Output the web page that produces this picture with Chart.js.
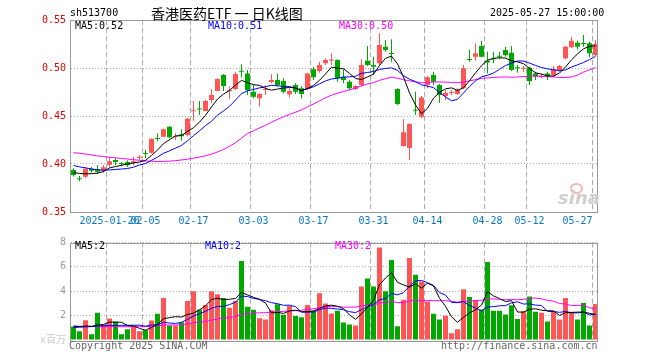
<!DOCTYPE html>
<html lang="zh-CN">
<head>
<meta charset="UTF-8">
<title>香港医药ETF 日K线图</title>
<script src="https://cdn.jsdelivr.net/npm/chart.js"></script>
<style>
  body { margin: 0; background: #fff; }
  #wrap { position: relative; width: 660px; height: 360px; overflow: hidden;
          font-family: "DejaVu Sans Mono", "Noto Sans CJK SC", monospace; font-size: 10px; }
  #priceChart { position: absolute; left: 0; top: 0; }
  #volChart { position: absolute; left: 0; top: 232px; }
  .t { position: absolute; white-space: pre; line-height: 12px; }
  .title { font-family: "Noto Sans CJK SC", sans-serif; font-size: 14px; line-height: 16px; }
  .logo { position: absolute; left: 558px; top: 188px; font-family: "DejaVu Sans", sans-serif;
          font-size: 18px; font-weight: bold; font-style: italic; color: #cfcfcf; line-height: 20px; }
  .eye { position: absolute; left: 570px; top: 183px; width: 9px; height: 7px; border-radius: 50%;
         border: 2px solid #f2b8b8; }
</style>
</head>
<body>
<div id="wrap">
  <canvas id="priceChart" width="660" height="232"></canvas>
  <canvas id="volChart" width="660" height="128"></canvas>

  <div class="t" style="left:70px;top:7px;color:#000">sh513700</div>
  <div class="t title" style="left:151px;top:5px;color:#000">香港医药ETF 一 日K线图</div>
  <div class="t" style="left:490px;top:7px;color:#000">2025-05-27 15:00:00</div>

  <div class="t" style="left:75px;top:20px;color:#000">MA5:0.52</div>
  <div class="t" style="left:208px;top:20px;color:#0000ff">MA10:0.51</div>
  <div class="t" style="left:339px;top:20px;color:#ff00ff">MA30:0.50</div>

  <div class="t" style="left:75px;top:240px;color:#000">MA5:2</div>
  <div class="t" style="left:205px;top:240px;color:#0000ff">MA10:2</div>
  <div class="t" style="left:335px;top:240px;color:#ff00ff">MA30:2</div>

  <div class="eye"></div>
  <div class="logo">sina</div>

  <div class="t" style="left:69px;top:340px;color:#666">Copyright 2025 SINA.COM</div>
  <div class="t" style="left:441px;top:340px;color:#666">http://finance.sina.com.cn</div>
</div>

<script>
// trading days shown on the chart
const dates = [
  '2025-01-10','2025-01-13','2025-01-14','2025-01-15','2025-01-16','2025-01-17','2025-01-20','2025-01-21','2025-01-22','2025-01-23','2025-01-24','2025-01-27',
  '2025-02-05','2025-02-06','2025-02-07','2025-02-10','2025-02-11','2025-02-12','2025-02-13','2025-02-14','2025-02-17','2025-02-18','2025-02-19','2025-02-20','2025-02-21','2025-02-24','2025-02-25','2025-02-26','2025-02-27','2025-02-28',
  '2025-03-03','2025-03-04','2025-03-05','2025-03-06','2025-03-07','2025-03-10','2025-03-11','2025-03-12','2025-03-13','2025-03-14','2025-03-17','2025-03-18','2025-03-19','2025-03-20','2025-03-21','2025-03-24','2025-03-25','2025-03-26','2025-03-27','2025-03-28','2025-03-31',
  '2025-04-01','2025-04-02','2025-04-03','2025-04-07','2025-04-08','2025-04-09','2025-04-10','2025-04-11','2025-04-14','2025-04-15','2025-04-16','2025-04-17','2025-04-18','2025-04-21','2025-04-22','2025-04-23','2025-04-24','2025-04-25','2025-04-28','2025-04-29','2025-04-30',
  '2025-05-06','2025-05-07','2025-05-08','2025-05-09','2025-05-12','2025-05-13','2025-05-14','2025-05-15','2025-05-16','2025-05-19','2025-05-20','2025-05-21','2025-05-22','2025-05-23','2025-05-26','2025-05-27'
];

// dates that get a label and a dashed line
const axisDates = ['2025-01-20','2025-02-05','2025-02-17','2025-03-03','2025-03-17','2025-03-31','2025-04-14','2025-04-28','2025-05-12','2025-05-27'];

const opens = [
  0.3937,0.385,0.3868,0.395,0.3945,0.393,0.3993,0.4042,0.4005,0.402,
  0.4007,0.4065,0.411,0.4118,0.4266,0.4285,0.4389,0.4285,0.431,0.4302,
  0.4549,0.4578,0.4552,0.4667,0.476,0.4927,0.4757,0.4781,0.4966,0.4944,
  0.4753,0.4684,0.477,0.4854,0.4875,0.4865,0.4726,0.4823,0.4788,0.4781,
  0.4986,0.4969,0.5049,0.5079,0.5083,0.491,0.4858,0.4781,0.4823,0.5076,
  0.5031,0.5049,0.5222,0.5149,0.4781,0.4188,0.4167,0.4562,0.4493,0.4823,
  0.4927,0.4823,0.4708,0.474,0.4729,0.4788,0.5087,0.5118,0.5229,0.5076,
  0.5094,0.5122,0.5188,0.516,0.5003,0.4993,0.5003,0.4944,0.4906,0.4944,
  0.4927,0.4979,0.5101,0.5215,0.5264,0.5253,0.5257,0.5135
];
const highs = [
  0.3955,0.3875,0.397,0.397,0.399,0.399,0.4076,0.4063,0.402,0.404,
  0.4076,0.409,0.4146,0.4267,0.432,0.437,0.4396,0.432,0.4361,0.448,
  0.4656,0.4656,0.467,0.4781,0.4892,0.4938,0.4806,0.4962,0.504,0.4979,
  0.4823,0.4736,0.482,0.4934,0.4944,0.4892,0.4788,0.484,0.4812,0.4951,
  0.5014,0.5066,0.51,0.5153,0.509,0.4986,0.4875,0.4823,0.509,0.5229,
  0.5118,0.5361,0.5292,0.5299,0.4788,0.4469,0.4424,0.4753,0.4708,0.4917,
  0.4962,0.4833,0.4771,0.4771,0.4788,0.5031,0.5194,0.5257,0.5285,0.517,
  0.517,0.517,0.5222,0.5229,0.5031,0.5021,0.5014,0.4962,0.4944,0.4962,
  0.5021,0.5031,0.5229,0.5326,0.5285,0.5344,0.5274,0.5292
];
const lows = [
  0.387,0.382,0.3855,0.391,0.3895,0.391,0.3972,0.3986,0.3973,0.397,
  0.3986,0.404,0.4062,0.411,0.4236,0.428,0.4267,0.425,0.4243,0.429,
  0.4451,0.451,0.455,0.4632,0.4757,0.476,0.4677,0.477,0.49,0.4719,
  0.4684,0.4597,0.4719,0.484,0.4806,0.4736,0.4694,0.4729,0.4681,0.4771,
  0.4875,0.4951,0.5031,0.5031,0.4858,0.484,0.4771,0.4771,0.4806,0.5021,
  0.4927,0.5031,0.517,0.5066,0.4615,0.418,0.4042,0.451,0.4476,0.4788,
  0.4823,0.4639,0.4667,0.4715,0.4719,0.4778,0.5066,0.5076,0.5111,0.4944,
  0.5049,0.509,0.5118,0.497,0.4951,0.4962,0.4823,0.4875,0.4892,0.4875,
  0.4903,0.4962,0.509,0.5205,0.5194,0.5222,0.5111,0.5125
];
const closes = [
  0.3885,0.384,0.3951,0.393,0.392,0.3965,0.4028,0.402,0.4,0.3986,
  0.4028,0.4069,0.4104,0.4264,0.426,0.4361,0.4278,0.4295,0.429,0.4472,
  0.4556,0.4568,0.4656,0.4719,0.4885,0.4812,0.476,0.4938,0.4962,0.4767,
  0.4701,0.4729,0.4775,0.4875,0.4823,0.4753,0.476,0.4753,0.4729,0.4944,
  0.4903,0.5031,0.5083,0.5083,0.4892,0.4875,0.4788,0.4812,0.5031,0.5031,
  0.5014,0.524,0.5188,0.5146,0.4625,0.433,0.4417,0.4555,0.4694,0.4903,
  0.4858,0.4719,0.4743,0.4743,0.4771,0.4997,0.5083,0.5153,0.5118,0.5056,
  0.509,0.5118,0.5135,0.4979,0.4997,0.4997,0.4865,0.491,0.491,0.491,
  0.4986,0.5021,0.5222,0.5285,0.5222,0.525,0.5153,0.525
];

// price moving averages as drawn
const ma5 = [
  0.391,0.3902,0.3898,0.3899,0.3905,0.3921,0.3959,0.3973,0.3987,0.4,
  0.4012,0.4021,0.4037,0.409,0.4145,0.4212,0.4253,0.4292,0.4297,0.4339,
  0.4378,0.4436,0.4508,0.4594,0.4677,0.4728,0.4766,0.4823,0.4871,0.4848,
  0.4826,0.4819,0.4787,0.4769,0.4781,0.4791,0.4797,0.4793,0.4764,0.4788,
  0.4818,0.4872,0.4938,0.5009,0.4998,0.4993,0.4944,0.489,0.488,0.4907,
  0.4935,0.5026,0.5101,0.5124,0.5043,0.4906,0.4741,0.4615,0.4524,0.458,
  0.4685,0.4746,0.4783,0.4793,0.4767,0.4795,0.4867,0.4949,0.5024,0.5081,
  0.51,0.5107,0.5103,0.5076,0.5064,0.5045,0.4995,0.495,0.4936,0.4918,
  0.4916,0.4947,0.501,0.5085,0.5147,0.52,0.5226,0.5232
];
const ma10 = [
  0.3985,0.397,0.396,0.3948,0.394,0.3935,0.3938,0.3943,0.3948,0.3953,
  0.3967,0.399,0.4005,0.4038,0.4072,0.4112,0.4137,0.4165,0.4194,0.4242,
  0.4295,0.4345,0.44,0.4446,0.4508,0.4553,0.4601,0.4666,0.4733,0.4762,
  0.4777,0.4793,0.4805,0.482,0.4814,0.4808,0.4808,0.479,0.4767,0.4784,
  0.4804,0.4835,0.4865,0.4886,0.4893,0.4905,0.4908,0.4914,0.4944,0.4953,
  0.4964,0.4985,0.4995,0.5002,0.4975,0.4921,0.4883,0.4858,0.4824,0.4811,
  0.4796,0.4744,0.4699,0.4659,0.4673,0.474,0.4807,0.4866,0.4909,0.4924,
  0.4947,0.4987,0.5026,0.505,0.5073,0.5073,0.5051,0.5027,0.5006,0.4991,
  0.4981,0.4971,0.498,0.501,0.5033,0.5058,0.5087,0.5121
];
const ma30 = [
  0.4118,0.4112,0.4104,0.4094,0.4085,0.4077,0.407,0.4064,0.4058,0.4052,
  0.4045,0.4038,0.4032,0.4028,0.4026,0.4027,0.403,0.4035,0.4042,0.405,
  0.406,0.4072,0.4086,0.4103,0.4125,0.4152,0.4185,0.4222,0.4268,0.4319,
  0.4346,0.4376,0.4403,0.4435,0.4465,0.4491,0.4516,0.454,0.4564,0.4596,
  0.4625,0.4657,0.469,0.4717,0.4738,0.4756,0.4773,0.479,0.4815,0.4833,
  0.4848,0.4871,0.4889,0.4903,0.4894,0.4878,0.4867,0.4854,0.4845,0.4849,
  0.4855,0.4854,0.4853,0.4849,0.4847,0.4855,0.4866,0.4879,0.4892,0.4896,
  0.4902,0.4905,0.4907,0.4903,0.4907,0.4911,0.4914,0.4917,0.4913,0.4909,
  0.4908,0.4901,0.4902,0.4906,0.4926,0.4957,0.4981,0.5005
];

// volume, millions
const volumes = [
  1.1,0.72,1.63,0.48,2.24,1.28,1.76,1.52,0.48,0.88,
  1.15,0.72,0.8,1.6,2.16,3.45,1.18,1.18,1.45,3.2,
  4.0,2.5,2.88,4.0,3.76,3.44,2.64,3.2,6.48,2.72,
  2.48,1.78,1.68,2.45,2.93,2.08,2.8,1.97,1.87,2.88,
  2.4,3.84,2.99,2.18,2.4,1.44,1.27,1.2,4.4,5.04,
  4.4,7.6,4.0,6.56,1.12,3.3,6.72,5.36,4.8,3.15,
  2.16,1.68,2.0,0.56,0.88,4.16,3.52,3.28,2.5,6.4,
  2.4,2.4,2.1,2.85,1.73,2.35,3.57,2.32,2.24,1.52,
  2.32,1.68,3.44,2.32,1.68,3.04,1.2,2.96
];
const volMa5 = [
  1.15,1.1,1.15,1.12,1.234,1.27,1.478,1.456,1.456,1.184,
  1.158,0.95,0.806,1.03,1.286,1.746,1.838,1.914,1.884,2.092,
  2.202,2.466,2.806,3.316,3.428,3.316,3.344,3.408,3.904,3.696,
  3.504,3.332,3.028,2.222,2.264,2.184,2.388,2.446,2.33,2.32,
  2.384,2.592,2.796,2.858,2.762,2.57,2.056,1.698,2.142,2.67,
  3.262,4.528,5.088,5.52,4.736,4.516,4.34,4.612,4.26,4.666,
  4.438,3.43,2.758,1.91,1.456,1.856,2.224,2.48,2.868,3.972,
  3.62,3.396,3.16,3.23,2.296,2.286,2.52,2.564,2.442,2.4,
  2.394,2.016,2.24,2.256,2.288,2.288,2.192,2.096
];
const volMa10 = [
  1.02,1.05,1.08,1.1,1.15,1.17,1.19,1.2,1.2,1.209,
  1.214,1.214,1.131,1.243,1.235,1.452,1.394,1.36,1.457,1.689,
  1.974,2.152,2.36,2.6,2.76,2.759,2.905,3.107,3.61,3.562,
  3.41,3.338,3.218,3.063,2.98,2.844,2.86,2.737,2.276,2.292,
  2.284,2.49,2.621,2.594,2.541,2.477,2.324,2.247,2.5,2.716,
  2.916,3.292,3.393,3.831,3.703,3.889,4.434,4.85,4.89,4.701,
  4.477,3.885,3.685,3.085,3.061,3.147,2.827,2.619,2.389,2.714,
  2.738,2.81,2.82,3.049,3.134,2.953,2.958,2.862,2.836,2.348,
  2.34,2.268,2.342,2.226,2.221,2.29,2.053,2.117
];
const volMa30 = [
  1.12,1.12,1.11,1.11,1.1,1.1,1.1,1.1,1.09,1.09,
  1.09,1.09,1.1,1.11,1.15,1.23,1.23,1.24,1.25,1.32,
  1.42,1.47,1.53,1.63,1.72,1.8,1.85,1.92,2.1,2.153,
  2.199,2.235,2.236,2.302,2.325,2.352,2.386,2.401,2.448,2.514,
  2.556,2.66,2.733,2.752,2.76,2.693,2.696,2.697,2.795,2.857,
  2.87,3.04,3.077,3.163,3.075,3.07,3.206,3.278,3.222,3.236,
  3.226,3.222,3.233,3.17,3.102,3.171,3.195,3.239,3.26,3.377,
  3.377,3.329,3.299,3.322,3.299,3.33,3.406,3.444,3.372,3.254,
  3.185,2.988,2.962,2.821,2.84,2.831,2.647,2.567
];

const priceTicks = [0.35, 0.40, 0.45, 0.50, 0.55];
const volTicks = [0, 2, 4, 6, 8];

const UP = '#ff5555', DOWN = '#00a800';
const colors = closes.map((c, i) => c >= opens[i] ? UP : DOWN);
const markIdx = new Set(axisDates.map(d => dates.indexOf(d)));

Chart.defaults.font.family = "'DejaVu Sans Mono', 'Noto Sans CJK SC', monospace";
Chart.defaults.font.size = 10;

// grey frame round the plot area
const frame = {
  id: 'frame',
  afterDatasetsDraw(chart) {
    const a = chart.chartArea, ctx = chart.ctx;
    ctx.save();
    ctx.strokeStyle = '#999';
    ctx.lineWidth = 1;
    ctx.strokeRect(Math.floor(a.left) + 0.5, Math.round(a.top) + 0.5,
                   Math.round(a.right - a.left) - 1, Math.round(a.bottom - a.top));
    ctx.restore();
  }
};

function xLabel(i) {
  const d = dates[i];
  if (!markIdx.has(i)) return '';
  if (i === markIdx.values().next().value) return d;  // first one keeps the year
  if (i === dates.length - 1) return d.slice(5) + '      '; // pushed left of the edge
  return d.slice(5);
}

const xGrid = {
  offset: true,
  drawTicks: false,
  color: ctx => markIdx.has(ctx.index) ? '#aaa' : 'rgba(0,0,0,0)'
};

const base = {
  responsive: false,
  animation: false,
  events: [],
  plugins: { legend: { display: false }, tooltip: { enabled: false } }
};

new Chart(document.getElementById('priceChart'), {
  type: 'bar',
  data: {
    labels: dates,
    datasets: [
      { type: 'line', data: ma5, borderColor: '#000', borderWidth: 1, pointRadius: 0, tension: 0 },
      { type: 'line', data: ma10, borderColor: '#0000ff', borderWidth: 1, pointRadius: 0, tension: 0 },
      { type: 'line', data: ma30, borderColor: '#ff00ff', borderWidth: 1, pointRadius: 0, tension: 0 },
      { data: opens.map((o, i) => [o, closes[i]]), backgroundColor: colors,
        barThickness: 5, minBarLength: 1, grouped: false, inflateAmount: 0 },
      { data: lows.map((l, i) => [l, highs[i]]), backgroundColor: colors,
        barThickness: 1, grouped: false, inflateAmount: 0 }
    ]
  },
  options: {
    ...base,
    layout: { padding: { left: 0, right: 61.5, top: 20, bottom: 0 } },
    scales: {
      x: {
        offset: true,
        afterFit: s => { s.height = 20; },
        grid: xGrid,
        border: { display: false, dash: [5, 3] },
        ticks: { autoSkip: false, maxRotation: 0, minRotation: 0, padding: 3,
                 color: '#0a78c8', callback: (v, i) => xLabel(i) }
      },
      y: {
        min: priceTicks[0], max: priceTicks[priceTicks.length - 1],
        afterFit: s => { s.width = 70.5; },
        afterBuildTicks: s => { s.ticks = priceTicks.map(v => ({ value: v })); },
        grid: { drawTicks: false, color: '#aaa' },
        border: { display: false, dash: [1, 2] },
        ticks: { padding: 4.5, color: '#e00000', callback: v => v.toFixed(2) }
      }
    }
  },
  plugins: [frame]
});

new Chart(document.getElementById('volChart'), {
  type: 'bar',
  data: {
    labels: dates,
    datasets: [
      { type: 'line', data: volMa5, borderColor: '#000', borderWidth: 1, pointRadius: 0, tension: 0 },
      { type: 'line', data: volMa10, borderColor: '#0000ff', borderWidth: 1, pointRadius: 0, tension: 0 },
      { type: 'line', data: volMa30, borderColor: '#ff00ff', borderWidth: 1, pointRadius: 0, tension: 0 },
      { data: volumes, backgroundColor: colors, barThickness: 5, grouped: false, inflateAmount: 0 }
    ]
  },
  options: {
    ...base,
    layout: { padding: { left: 0, right: 61.5, top: 8, bottom: 20 } },
    scales: {
      x: {
        offset: true,
        afterFit: s => { s.height = 0; },
        grid: xGrid,
        border: { display: false, dash: [5, 3] },
        ticks: { display: false, autoSkip: false, maxRotation: 0 }
      },
      y: {
        min: volTicks[0], max: volTicks[volTicks.length - 1],
        afterFit: s => { s.width = 70.5; },
        afterBuildTicks: s => { s.ticks = volTicks.map(v => ({ value: v })); },
        grid: { drawTicks: false, color: ctx => ctx.tick && ctx.tick.value === 0 ? 'rgba(0,0,0,0)' : '#aaa' },
        border: { display: false, dash: [1, 2] },
        ticks: { padding: 4.5,
                 color: ctx => ctx.tick.value === 0 ? '#c8c8c8' : '#999',
                 callback: v => v === 0 ? 'x百万' : String(v) }
      }
    }
  },
  plugins: [frame]
});
</script>
</body>
</html>
